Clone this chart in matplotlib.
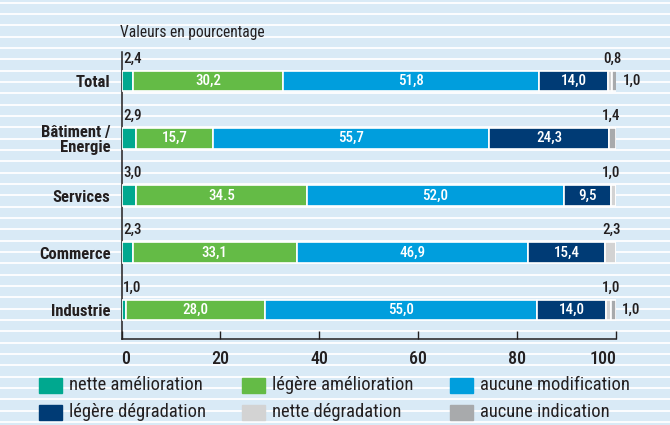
import matplotlib
matplotlib.use("Agg")
import matplotlib.pyplot as plt
from matplotlib.patches import Rectangle

plt.rcParams['font.family'] = ['Roboto Condensed', 'Archivo Narrow', 'DejaVu Sans']

categories = ["Total", "Bâtiment /\nEnergie", "Services", "Commerce", "Industrie"]
series_names = ["nette amélioration", "légère amélioration", "aucune modification",
                "légère dégradation", "nette dégradation", "aucune indication"]
nette_amelioration = [2.4, 2.9, 3.0, 2.3, 1.0]
legere_amelioration = [30.2, 15.7, 34.5, 33.1, 28.0]
aucune_modification = [51.8, 55.7, 52.0, 46.9, 55.0]
legere_degradation = [14.0, 24.3, 9.5, 15.4, 14.0]
nette_degradation = [0.8, 0.0, 1.0, 2.3, 1.0]
aucune_indication = [1.0, 1.4, 0.0, 0.0, 1.0]
x_ticks = [0, 20, 40, 60, 80, 100]
label_overrides = {(2, 1): "34.5"}

colors = ["#00a88f", "#64bb46", "#009edd", "#003b75", "#d3d3d3", "#a8aaac"]
bg = "#d9eaf6"
ink = "#231f20"

W, H = 670, 425
fig = plt.figure(figsize=(W / 100, H / 100), dpi=100)
fig.patch.set_facecolor(bg)

# background stripes
bax = fig.add_axes([0, 0, 1, 1], zorder=-5)
bax.set_xlim(0, W)
bax.set_ylim(H, 0)
bax.axis("off")
y = 2.7
while y < H:
    bax.axhline(y, color="white", lw=1.3, zorder=0)
    y += 11.33

def fx(px):
    return px / W

def fy(py):
    return 1 - py / H

ax = fig.add_axes([fx(121.5), fy(339), fx(616) - fx(121.5), fy(52) - fy(339)])
ax.set_facecolor("none")
ax.set_xlim(0, 100)
ax.set_ylim(4.507, -0.507)

series = [nette_amelioration, legere_amelioration, aucune_modification,
          legere_degradation, nette_degradation, aucune_indication]
ypos = list(range(len(categories)))
lefts = [0.0] * len(categories)
bh = 0.36
for si, vals in enumerate(series):
    ax.barh(ypos, vals, left=lefts, height=bh, color=colors[si],
            edgecolor="white", linewidth=1.2, zorder=3)
    for i, v in enumerate(vals):
        if v <= 0:
            continue
        txt = label_overrides.get((i, si), f"{v:.1f}".replace(".", ","))
        if 1 <= si <= 3:
            ax.text(lefts[i] + v / 2, i, txt, ha="center", va="center",
                    color="white", fontsize=10.8, fontweight="medium", zorder=4)
        elif si == 0:
            ax.text(0.3, i - 0.27, txt, ha="left", va="bottom",
                    color=ink, fontsize=10.8, fontweight="medium")
    lefts = [l + v for l, v in zip(lefts, vals)]

# small labels on the right
for i in range(len(categories)):
    end = lefts[i]
    nd, ai = nette_degradation[i], aucune_indication[i]
    if nd > 0 and ai > 0:
        ax.text(end - 0.9, i - 0.27, f"{nd:.1f}".replace(".", ","), ha="center",
                va="bottom", color=ink, fontsize=10.8, fontweight="medium")
        ax.text(end + 1.2, i, f"{ai:.1f}".replace(".", ","), ha="left",
                va="center", color=ink, fontsize=10.8, fontweight="medium")
    else:
        v = nd if nd > 0 else ai
        ax.text(end - 0.9, i - 0.27, f"{v:.1f}".replace(".", ","), ha="center",
                va="bottom", color=ink, fontsize=10.8, fontweight="medium")

ax.set_yticks(ypos)
ax.set_yticklabels(categories, fontweight="bold", fontsize=12, color=ink,
                   linespacing=1.05)
ax.tick_params(axis="y", length=0, pad=8)
ax.set_xticks(x_ticks)
ax.set_xticklabels([str(t) for t in x_ticks], fontsize=13, color=ink,
                   fontweight="medium")
ax.tick_params(axis="x", direction="in", length=5.5, width=1, color=ink, pad=8)
xl = ax.get_xticklabels()
xl[0].set_ha("left")
xl[-1].set_ha("right")
for s in ["top", "right"]:
    ax.spines[s].set_visible(False)
for s in ["left", "bottom"]:
    ax.spines[s].set_color(ink)
    ax.spines[s].set_linewidth(1.1)

fig.text(fx(120), fy(32), "Valeurs en pourcentage", ha="left", va="center",
         fontsize=11.2, color=ink)

# legend
cols_x = [39, 242, 450]
rows_y = [385, 412]
for k, name in enumerate(series_names):
    r, c = divmod(k, 3)
    x0, yc = cols_x[c], rows_y[r]
    fig.patches.append(Rectangle((fx(x0), fy(yc + 7.5)), fx(23), 15 / H,
                                 transform=fig.transFigure, color=colors[k]))
    fig.text(fx(x0 + 30), fy(yc), name, ha="left", va="center",
             fontsize=13.3, color=ink)

fig.savefig("out.png", dpi=100, facecolor=bg)
